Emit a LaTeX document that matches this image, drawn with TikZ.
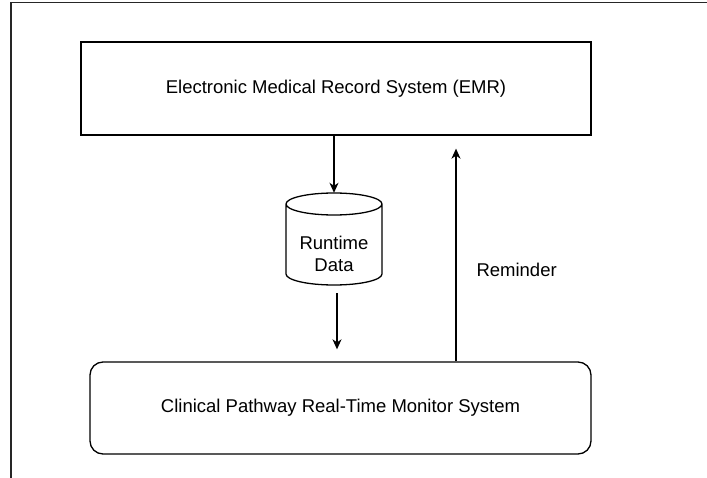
\documentclass[tikz,border=0pt]{standalone}
\usepackage{fontspec}
\setmainfont{Liberation Sans}
\usetikzlibrary{arrows.meta}
\begin{document}
\begin{tikzpicture}[x=1pt,y=-1pt,
  lbl/.style={font=\fontsize{18.5}{22}\selectfont, text=black, align=center},
  sysbox/.style={lbl, draw=black, line width=1.3pt, inner sep=0pt},
  arr/.style={draw=black, line width=1.3pt,
    -{Stealth[length=10pt,width=9pt,inset=3pt]}},
  frameline/.style={draw=black!85, line width=1.8pt}]
  \useasboundingbox (0,0) rectangle (707,478);

  % open frame around the diagram
  \draw[frameline] (11,478) -- (11,2.5) -- (707,2.5);

  % the two systems
  \node[sysbox, minimum width=510pt, minimum height=93pt] (emr) at (336,88.5)
    {Electronic Medical Record System (EMR)};
  \node[sysbox, rounded corners=13pt, minimum width=501pt, minimum height=92pt] (mon) at (340.5,408)
    {Clinical Pathway Real-Time Monitor System};

  % data store (cylinder)
  \node[lbl, minimum width=96pt, minimum height=92pt, inner sep=0pt] (db) at (334,239) {};
  \draw[black, line width=1.3pt]
    (334,204) ellipse [x radius=48pt, y radius=11pt]
    (286,204) -- (286,274)
      .. controls (286,280.1) and (307.5,285) .. (334,285)
      .. controls (360.5,285) and (382,280.1) .. (382,274)
    -- (382,204);
  \node[lbl] (dbtext) at (334,254) {Runtime\\Data};

  % connectors
  \coordinate (rem) at (456,0);
  \coordinate (feed) at (337,0);
  \draw[arr] (db.north |- emr.south) -- (db.north);
  \draw[arr, shorten <=8pt, shorten >=12pt] (feed |- db.south) -- (feed |- mon.north);
  \draw[arr, shorten >=13pt] (rem |- mon.north) -- (rem |- emr.south);
  \node[lbl, anchor=west] (remlbl) at (473,270) {Reminder};
\end{tikzpicture}
\end{document}
